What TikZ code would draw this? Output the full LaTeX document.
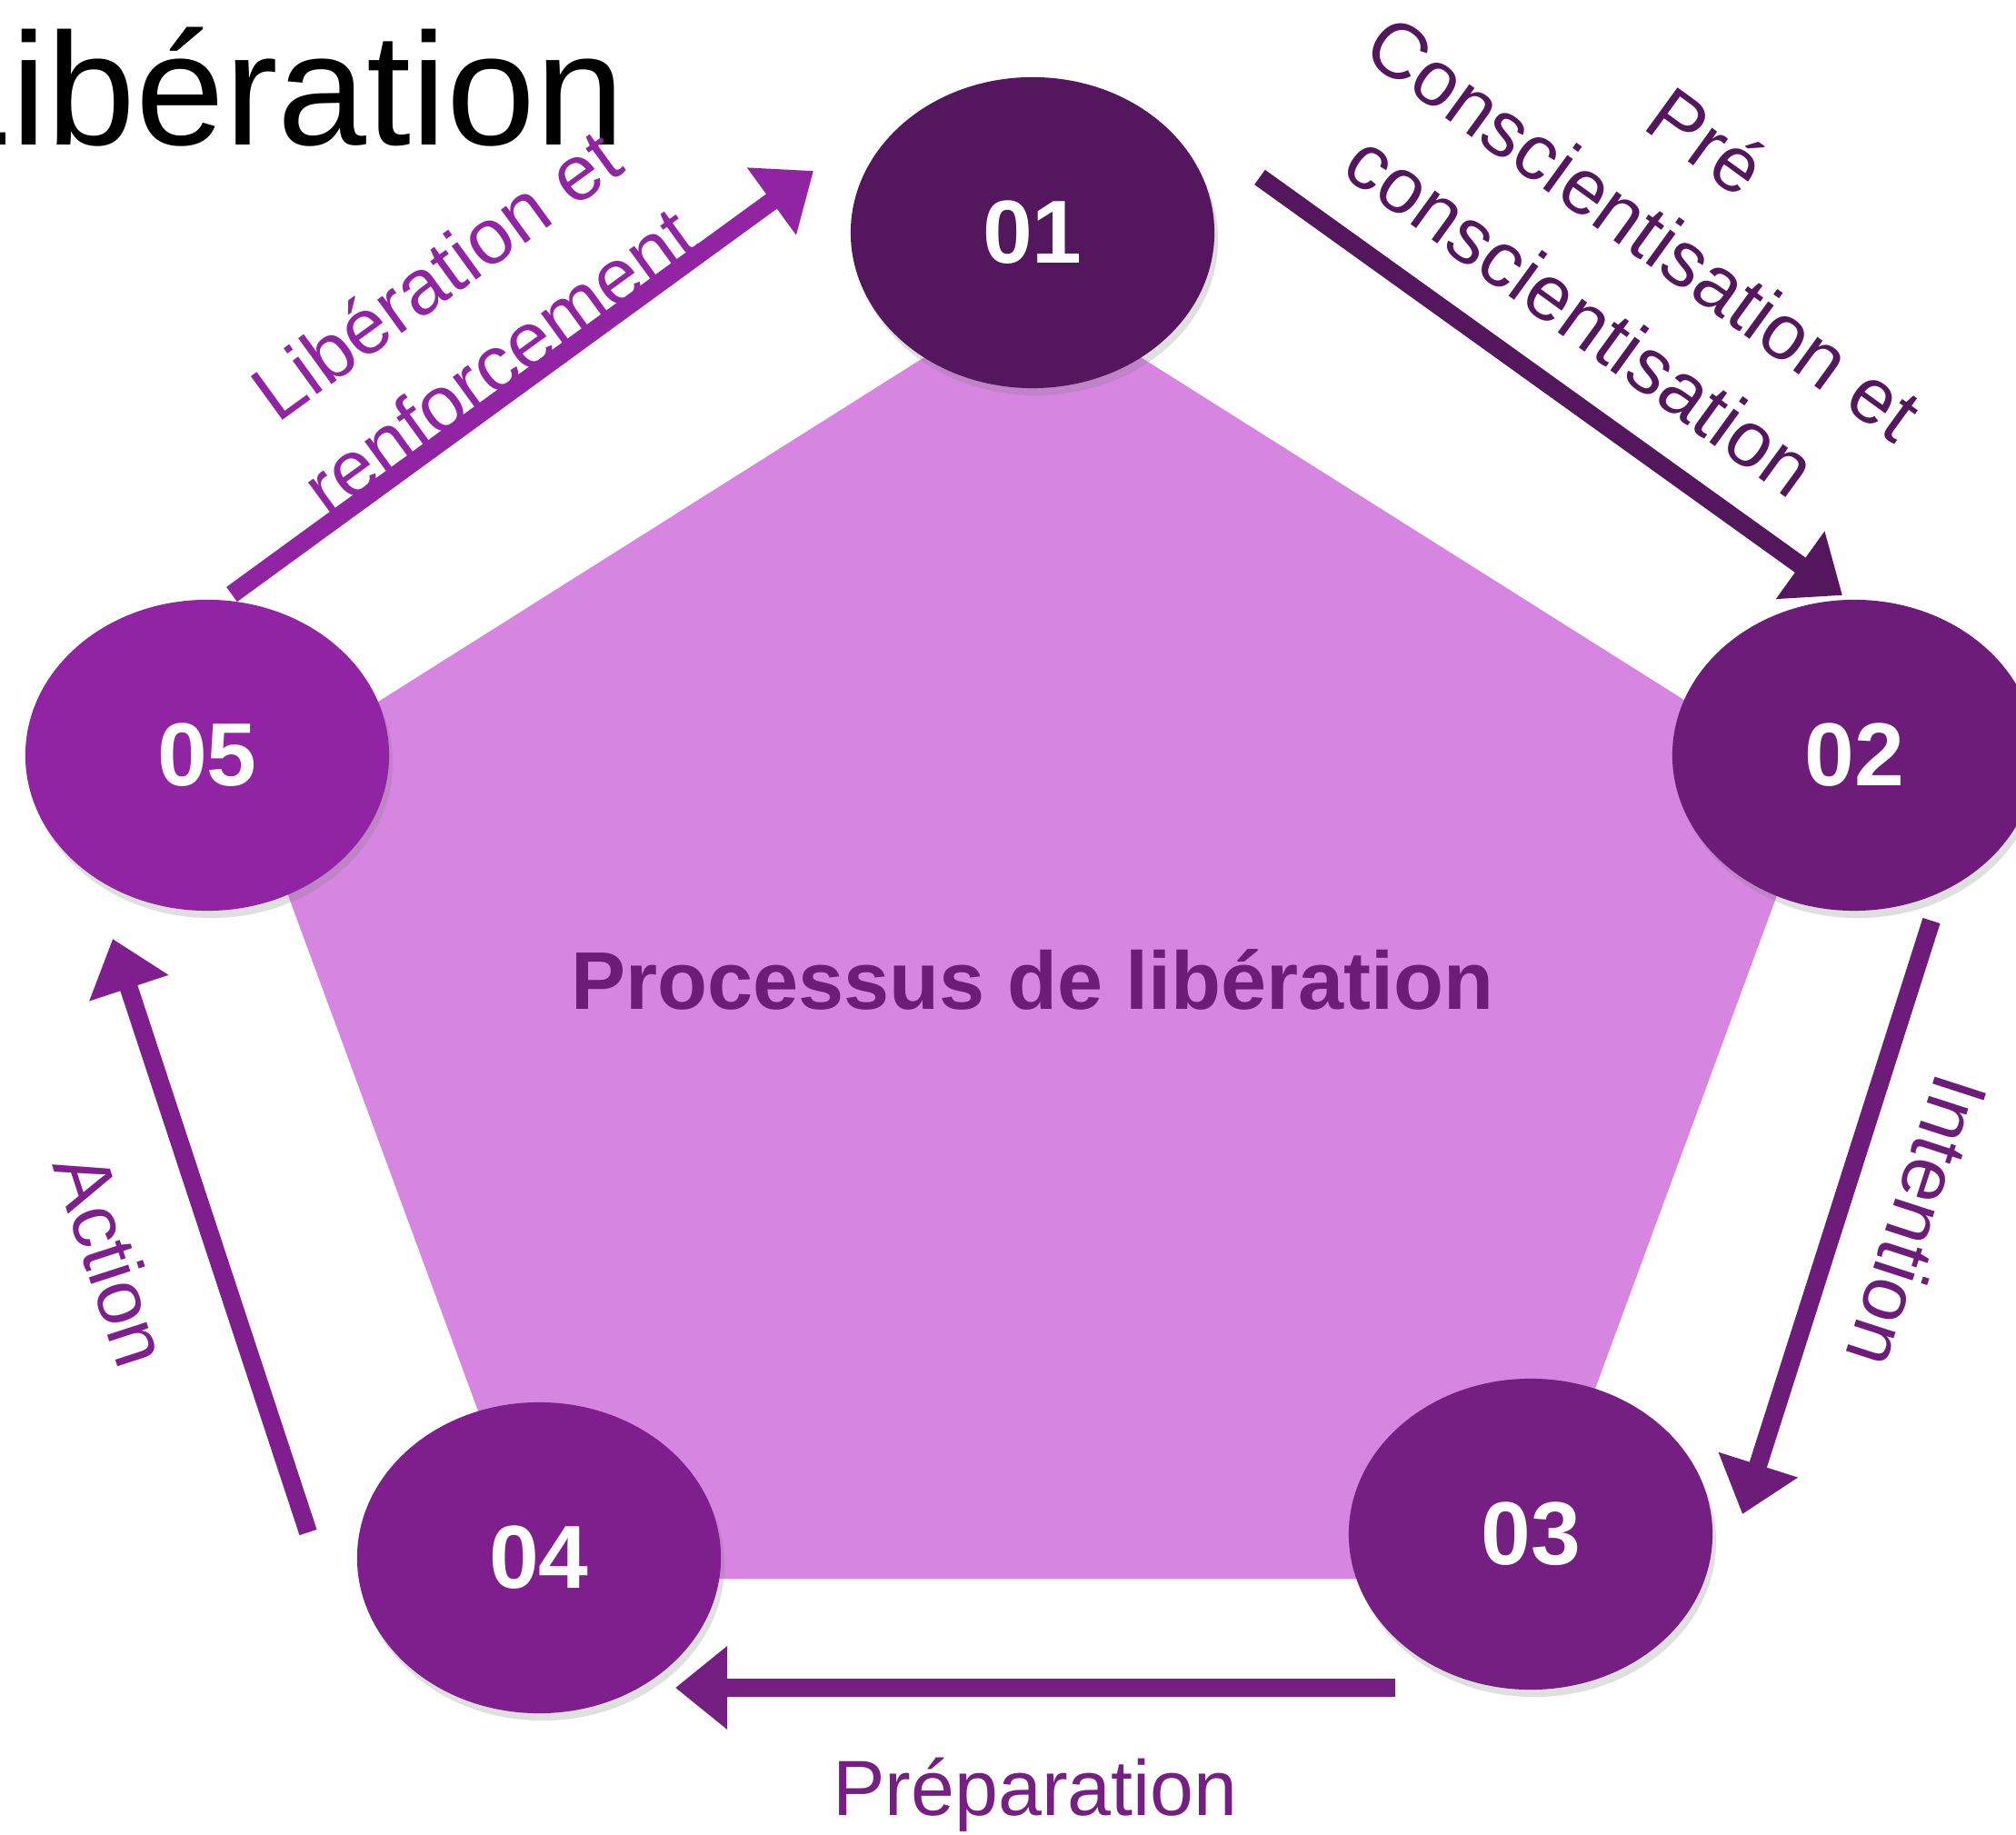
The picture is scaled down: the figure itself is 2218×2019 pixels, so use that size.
\documentclass[tikz,border=0pt]{standalone}
\usepackage{fontspec}
\setmainfont{Liberation Sans}
\usepackage{tikz}
\usetikzlibrary{arrows.meta,shapes.geometric,shadows}

\definecolor{violetA}{HTML}{54175E}
\definecolor{violetB}{HTML}{6D1C7A}
\definecolor{violetC}{HTML}{761F83}
\definecolor{violetD}{HTML}{7F1F8E}
\definecolor{violetE}{HTML}{9024A3}
\definecolor{mauve}{HTML}{D685E1}

\begin{document}
\begin{tikzpicture}[
    x=0.01cm, y=-0.01cm,
    etape/.style={
      ellipse,
      minimum width=4cm,
      minimum height=3.42cm,
      inner sep=0pt,
      text=white,
      font=\bfseries\fontsize{28}{34}\selectfont,
      drop shadow={opacity=.25, shadow xshift=.4mm, shadow yshift=-.8mm}},
    fleche/.style={
      line width=2mm,
      -{Triangle[length=5.7mm,width=8.8mm]}},
    legende/.style={
      align=center,
      font=\fontsize{24.5}{33.5}\selectfont}
    ]

  \path[use as bounding box, fill=white] (0,0) rectangle (2218,2019);

  \coordinate (d12) at (1386,195);
  \coordinate (f12) at (2027,655);
  \coordinate (d23) at (2125,1013);
  \coordinate (f23) at (1917,1666);
  \coordinate (d34) at (1535,1857);
  \coordinate (f34) at (743,1857);
  \coordinate (d45) at (339,1686);
  \coordinate (f45) at (124,1033);
  \coordinate (d51) at (255,654);
  \coordinate (f51) at (895,188);

  \fill[mauve] (1136,318) -- (2000,863) -- (1678,1737) -- (594,1737) -- (272,863) -- cycle;

  \node at (-86,160) (titre) [anchor=base west, inner sep=0pt, font=\fontsize{50}{60}\selectfont] {Libération};

  \draw[fleche, violetA] (d12) -- (f12);
  \draw[fleche, violetB] (d23) -- (f23);
  \draw[fleche, violetC] (d34) -- (f34);
  \draw[fleche, violetD] (d45) -- (f45);
  \draw[fleche, violetE] (d51) -- (f51);

  \node at (1136,256) (etape1) [etape, fill=violetA] {01};
  \node at (2040,831) (etape2) [etape, fill=violetB] {02};
  \node at (1684,1688) (etape3) [etape, fill=violetC] {03};
  \node at (593,1714) (etape4) [etape, fill=violetD] {04};
  \node at (228,831) (etape5) [etape, fill=violetE] {05};

  \node at (1136,1078) (centre) [text=violetB, font=\bfseries\fontsize{25.6}{30}\selectfont] {Processus de libération};

  \node at (1809,250) (precon) [legende, rotate=-36, text=violetA] {Pré\\Conscientisation et\\conscientisation};
  \node at (2110,1344) (intention) [legende, rotate=-108, text=violetB] {Intention};
  \node at (1139,1975) (preparation) [legende, text=violetC] {Préparation};
  \node at (124,1386) (action) [legende, rotate=-72, text=violetD] {Action};
  \node at (514,349) (liberation) [legende, rotate=36, text=violetE] {Libération et\\renforcement};

\end{tikzpicture}
\end{document}
